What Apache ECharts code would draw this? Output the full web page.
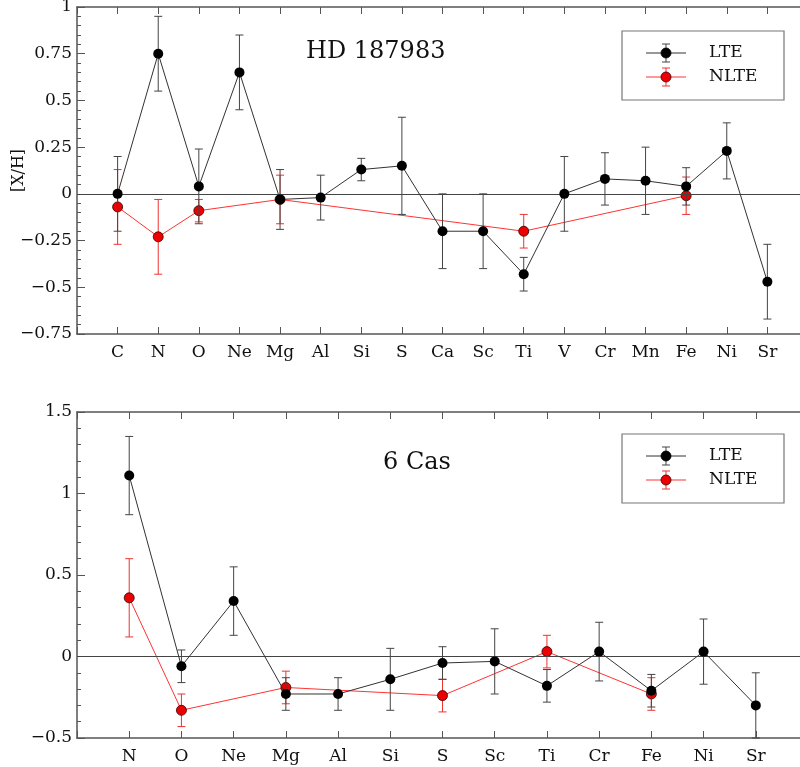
<!DOCTYPE html>
<html>
<head>
<meta charset="utf-8">
<script src="https://cdn.jsdelivr.net/npm/echarts@6/dist/echarts.min.js"></script>
<style>
html,body{margin:0;padding:0;background:#fff}
#chart{width:800px;height:767px}
</style>
</head>
<body>
<div id="chart"></div>
<script>
// HD 187983 panel
var elemTop = ['C','N','O','Ne','Mg','Al','Si','S','Ca','Sc','Ti','V','Cr','Mn','Fe','Ni','Sr'];
var lteTop = [0, 0.75, 0.04, 0.65, -0.03, -0.02, 0.13, 0.15, -0.20, -0.20, -0.43, 0, 0.08, 0.07, 0.04, 0.23, -0.47];
var lteTopErr = [0.2, 0.2, 0.2, 0.2, 0.16, 0.12, 0.06, 0.26, 0.2, 0.2, 0.09, 0.2, 0.14, 0.18, 0.1, 0.15, 0.2];
var nlteTop = [-0.07, -0.23, -0.09, null, -0.03, null, null, null, null, null, -0.20, null, null, null, -0.01, null, null];
var nlteTopErr = [0.2, 0.2, 0.06, null, 0.13, null, null, null, null, null, 0.09, null, null, null, 0.1, null, null];

// 6 Cas panel
var elemBot = ['N','O','Ne','Mg','Al','Si','S','Sc','Ti','Cr','Fe','Ni','Sr'];
var lteBot = [1.11, -0.06, 0.34, -0.23, -0.23, -0.14, -0.04, -0.03, -0.18, 0.03, -0.21, 0.03, -0.30];
var lteBotErr = [0.24, 0.1, 0.21, 0.1, 0.1, 0.19, 0.1, 0.2, 0.1, 0.18, 0.1, 0.2, 0.2];
var nlteBot = [0.36, -0.33, null, -0.19, null, null, -0.24, null, 0.03, null, -0.23, null, null];
var nlteBotErr = [0.24, 0.1, null, 0.1, null, null, 0.1, null, 0.1, null, 0.1, null, null];

var FONT = 'DejaVu Serif';
var axisColor = '#555';

function pts(vals){
    var out = [];
    for (var i = 0; i < vals.length; i++) {
        if (vals[i] !== null) out.push([i + 1, vals[i]]);
    }
    return out;
}
function bars(vals, errs){
    var out = [];
    for (var i = 0; i < vals.length; i++) {
        if (vals[i] !== null) out.push([i + 1, vals[i] - errs[i], vals[i] + errs[i]]);
    }
    return out;
}
function errRender(color){
    return function(params, api){
        var x = api.value(0);
        var lo = api.coord([x, api.value(1)]);
        var hi = api.coord([x, api.value(2)]);
        var w = 4;
        var st = {stroke: color, lineWidth: 1};
        return {
            type: 'group',
            children: [
                {type: 'line', shape: {x1: lo[0], y1: lo[1], x2: hi[0], y2: hi[1]}, style: st},
                {type: 'line', shape: {x1: lo[0] - w, y1: lo[1], x2: lo[0] + w, y2: lo[1]}, style: st},
                {type: 'line', shape: {x1: hi[0] - w, y1: hi[1], x2: hi[0] + w, y2: hi[1]}, style: st}
            ]
        };
    };
}
function minus(v){ return String(v).replace('-', '\u2212'); }

function xAxes(gi, names){
    var n = names.length + 1;
    return [
        {
            type: 'value', gridIndex: gi, position: 'bottom', min: 0, max: n, interval: 1,
            axisLine: {onZero: false, lineStyle: {color: axisColor, width: 1.5}},
            axisTick: {inside: true, length: 7, lineStyle: {color: axisColor}},
            axisLabel: {
                color: '#111', fontFamily: FONT, fontSize: 17, margin: 10,
                formatter: function(v){ return names[v - 1] || ''; }
            },
            splitLine: {show: false}
        },
        {
            type: 'value', gridIndex: gi, position: 'top', min: 0, max: n, interval: 1,
            axisLine: {onZero: false, lineStyle: {color: axisColor, width: 1.5}},
            axisTick: {inside: true, length: 7, lineStyle: {color: axisColor}},
            axisLabel: {show: false},
            splitLine: {show: false}
        }
    ];
}
function yAxes(gi, min, max, step, name){
    var common = {
        type: 'value', gridIndex: gi, min: min, max: max, interval: step,
        axisLine: {show: true, onZero: false, lineStyle: {color: axisColor, width: 1.5}},
        axisTick: {inside: true, length: 8, lineStyle: {color: axisColor}},
        minorTick: {show: true, splitNumber: 5, length: 4, lineStyle: {color: axisColor}},
        splitLine: {show: false}
    };
    var left = Object.assign({}, common, {
        position: 'left',
        axisLabel: {color: '#111', fontFamily: FONT, fontSize: 17, margin: 5, formatter: minus}
    });
    if (name) {
        left.name = name;
        left.nameLocation = 'middle';
        left.nameRotate = 90;
        left.nameGap = 50;
        left.nameMoveOverlap = false;
        left.nameTextStyle = {color: '#111', fontFamily: FONT, fontSize: 16};
    }
    var right = Object.assign({}, common, {position: 'right', axisLabel: {show: false}});
    return [left, right];
}

function panelSeries(xi, yi, lte, lteErr, nlte, nlteErr){
    return [
        {
            type: 'custom', xAxisIndex: xi, yAxisIndex: yi, z: 2,
            renderItem: errRender('#e33'), data: bars(nlte, nlteErr)
        },
        {
            type: 'line', xAxisIndex: xi, yAxisIndex: yi, z: 3,
            data: pts(nlte), symbol: 'circle', symbolSize: 10,
            lineStyle: {color: '#f33', width: 1},
            itemStyle: {color: '#e00', borderColor: '#300', borderWidth: 0.8}
        },
        {
            type: 'custom', xAxisIndex: xi, yAxisIndex: yi, z: 4,
            renderItem: errRender('#444'), data: bars(lte, lteErr)
        },
        {
            type: 'line', xAxisIndex: xi, yAxisIndex: yi, z: 5,
            data: pts(lte), symbol: 'circle', symbolSize: 10,
            lineStyle: {color: '#333', width: 1},
            itemStyle: {color: '#000'},
            markLine: {
                silent: true, symbol: ['none', 'none'], label: {show: false},
                lineStyle: {color: '#444', width: 1, type: 'solid'},
                data: [{yAxis: 0}]
            }
        }
    ];
}

function legendBox(y0){
    var g = [];
    g.push({type: 'rect', shape: {x: 622, y: y0, width: 162, height: 69},
        style: {fill: '#fff', stroke: '#777', lineWidth: 1.2}, z: 10});
    var rows = [
        {dy: 22, name: 'LTE', line: '#333', bar: '#444', fill: '#000', border: '#000'},
        {dy: 46, name: 'NLTE', line: '#f33', bar: '#e33', fill: '#e00', border: '#300'}
    ];
    rows.forEach(function(r){
        var y = y0 + r.dy;
        g.push({type: 'line', shape: {x1: 646, y1: y, x2: 686, y2: y}, style: {stroke: r.line, lineWidth: 1}, z: 11});
        g.push({type: 'line', shape: {x1: 666, y1: y - 9, x2: 666, y2: y + 9}, style: {stroke: r.bar, lineWidth: 1}, z: 11});
        g.push({type: 'line', shape: {x1: 662, y1: y - 9, x2: 670, y2: y - 9}, style: {stroke: r.bar, lineWidth: 1}, z: 11});
        g.push({type: 'line', shape: {x1: 662, y1: y + 9, x2: 670, y2: y + 9}, style: {stroke: r.bar, lineWidth: 1}, z: 11});
        g.push({type: 'circle', shape: {cx: 666, cy: y, r: 5}, style: {fill: r.fill, stroke: r.border, lineWidth: 0.8}, z: 12});
        g.push({type: 'text', x: 709, y: y, style: {text: r.name, fill: '#111', font: '17px "DejaVu Serif"', verticalAlign: 'middle'}, z: 12});
    });
    return g;
}

var chart = echarts.init(document.getElementById('chart'));
var option = {
    animation: false,
    backgroundColor: '#fff',
    title: [
        {text: 'HD 187983', left: 301, top: 35,
         textStyle: {fontFamily: FONT, fontSize: 24, fontWeight: 'normal', color: '#111'}},
        {text: '6 Cas', left: 378, top: 446,
         textStyle: {fontFamily: FONT, fontSize: 24, fontWeight: 'normal', color: '#111'}}
    ],
    grid: [
        {left: 77, top: 7, width: 731, height: 327, outerBoundsMode: 'none'},
        {left: 77, top: 412, width: 731, height: 326, outerBoundsMode: 'none'}
    ],
    xAxis: xAxes(0, elemTop).concat(xAxes(1, elemBot)),
    yAxis: yAxes(0, -0.75, 1, 0.25, '[X/H]').concat(yAxes(1, -0.5, 1.5, 0.5, null)),
    series: panelSeries(0, 0, lteTop, lteTopErr, nlteTop, nlteTopErr)
        .concat(panelSeries(2, 2, lteBot, lteBotErr, nlteBot, nlteBotErr)),
    graphic: legendBox(31).concat(legendBox(434))
};
chart.setOption(option);
</script>
</body>
</html>
